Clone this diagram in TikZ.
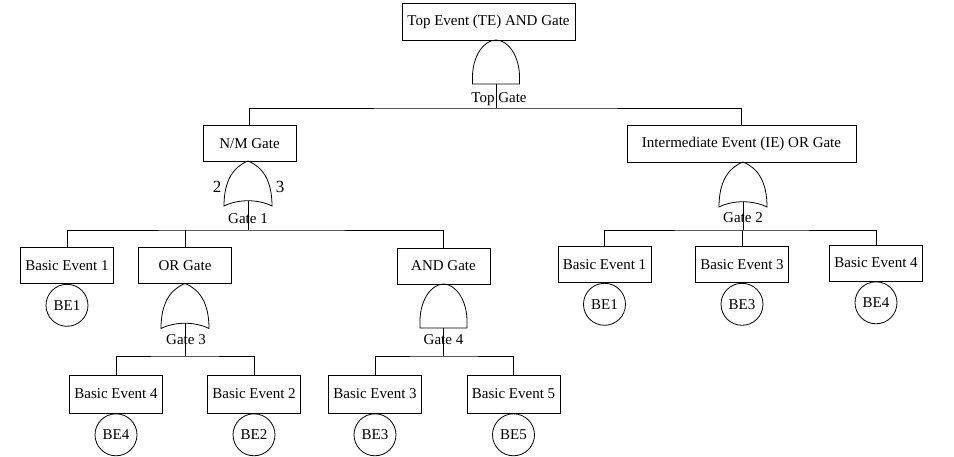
\documentclass[tikz,border=0pt]{standalone}
\usepackage{fontspec}
\setmainfont{Liberation Serif}
\begin{document}
\begin{tikzpicture}[x=1pt,y=-1pt,
  every node/.style={font=\fontsize{15}{17}\selectfont},
  box/.style={draw, line width=0.8pt, minimum width=93pt, minimum height=36pt, inner xsep=4.5pt},
  evt/.style={draw, circle, minimum size=42pt, inner sep=0pt, line width=0.8pt, anchor=north},
  lbl/.style={inner sep=0pt},
  wire/.style={line width=0.8pt},
  andgate/.pic={\draw[wire] (-23.5,44) -- (-23.5,37) .. controls (-23.5,16) and (-12,0) .. (0,0) .. controls (12,0) and (23.5,16) .. (23.5,37) -- (23.5,44) -- cycle;
    \coordinate (-out) at (0,44);},
  orgate/.pic={\draw[wire] (0,0) .. controls (-15,6) and (-24,20) .. (-24,45) .. controls (-10,38) and (10,38) .. (24,45) .. controls (24,20) and (15,6) .. (0,0) -- cycle;
    \coordinate (-out) at (0,40);}]
\useasboundingbox (0,0) rectangle (954,457);

% top level
\node[box, minimum width=173pt, minimum height=37pt] (te) at (488.5,21.5) {Top Event (TE) AND Gate};
\pic (gt) at (496,40) {andgate};
\coordinate (bt) at (496,108);
\draw[wire] (gt-out) -- (bt);
\node[lbl] (lt) at (499,99) {Top Gate};
\node[box] (nm) at (249.5,143.5) {N/M Gate};
\node[box, minimum width=229pt, minimum height=37pt] (ie) at (741.5,143.5) {Intermediate Event (IE) OR Gate};
\draw[wire] (nm.north) |- (bt) -| (ie.north);

% gate 1
\pic (g1) at (248,161) {orgate};
\coordinate (b1) at (248,230);
\draw[wire] (g1-out) -- (b1);
\node[lbl] (l1) at (248,219) {Gate 1};
\node[lbl, font=\fontsize{17}{19}\selectfont] (k2) at (217,187) {2};
\node[lbl, font=\fontsize{17}{19}\selectfont] (k3) at (280,187) {3};
\node[box] (a1) at (67,265.5) {Basic Event 1};
\node[box] (og) at (185,265.5) {OR Gate};
\node[box] (ag) at (443.5,266) {AND Gate};
\draw[wire] (a1.north) |- (b1) -| (ag.north);
\draw[wire] (og.north) -- (og.north |- b1);
\node[evt] (c1) at (a1.south) {BE1};

% gate 3
\pic (g3) at (185,283.5) {orgate};
\coordinate (b3) at (185,356);
\draw[wire] (g3-out) -- (b3);
\node[lbl] (l3) at (186,340) {Gate 3};
\node[box, minimum height=38pt] (e4) at (116,394) {Basic Event 4};
\node[box, minimum height=38pt] (e2) at (254,394) {Basic Event 2};
\draw[wire] (e4.north) |- (b3) -| (e2.north);
\node[evt] (c4) at (e4.south) {BE4};
\node[evt] (c2) at (e2.south) {BE2};

% gate 4
\pic (g4) at (443.5,284) {andgate};
\coordinate (b4) at (443.5,356);
\draw[wire] (g4-out) -- (b4);
\node[lbl] (l4) at (443.5,340) {Gate 4};
\node[box, minimum height=38pt] (e3) at (375,394) {Basic Event 3};
\node[box, minimum height=38pt] (e5) at (513.5,394) {Basic Event 5};
\draw[wire] (e3.north) |- (b4) -| (e5.north);
\node[evt] (c3) at (e3.south) {BE3};
\node[evt] (c5) at (e5.south) {BE5};

% gate 2
\pic (g2) at (743,162) {orgate};
\coordinate (b2) at (743,230);
\draw[wire] (g2-out) -- (b2);
\node[lbl] (l2) at (743,218) {Gate 2};
\node[box] (r1) at (604.5,264.5) {Basic Event 1};
\node[box] (r3) at (742,264.5) {Basic Event 3};
\node[box] (r4) at (876,263) {Basic Event 4};
\draw[wire] (r1.north) |- (b2) -| (r4.north);
\draw[wire] (r3.north) -- (r3.north |- b2);
\node[evt] (d1) at (r1.south) {BE1};
\node[evt] (d3) at (r3.south) {BE3};
\node[evt] (d4) at (r4.south) {BE4};
\end{tikzpicture}
\end{document}
